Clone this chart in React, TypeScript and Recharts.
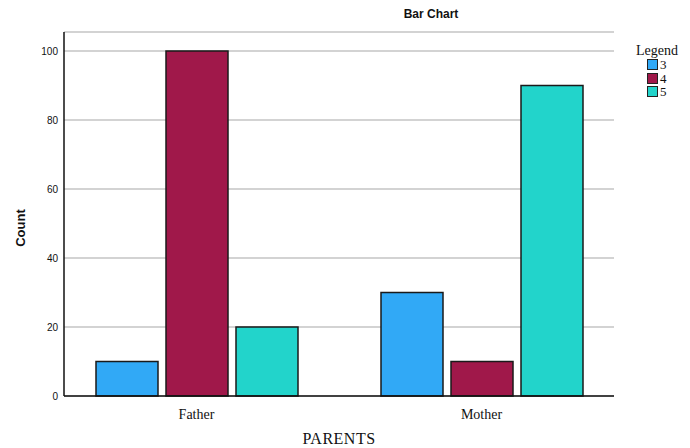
import React from 'react';
import { BarChart, Bar, XAxis, YAxis, CartesianGrid } from 'recharts';

const categories = ['Father', 'Mother'];
const series3 = [10, 30];
const series4 = [100, 10];
const series5 = [20, 90];
const yTicks = [0, 20, 40, 60, 80, 100];
const seriesNames = ['3', '4', '5'];
const seriesColors = ['#31a9f6', '#a0184a', '#22d4cb'];

const data = categories.map((c, i) => ({
  name: c,
  s3: series3[i],
  s4: series4[i],
  s5: series5[i],
}));

const LegendBox = () => (
  <div style={{ position: 'absolute', left: 636, top: 43, fontFamily: '"Liberation Serif", "DejaVu Serif", serif', fontSize: 14, color: '#111', lineHeight: '15px' }}>
    <div style={{ marginBottom: 0 }}>Legend</div>
    {seriesNames.map((n, i) => (
      <div key={n} style={{ display: 'flex', alignItems: 'center', marginLeft: 11, height: 13.5 }}>
        <span style={{ display: 'inline-block', width: 9, height: 9, background: seriesColors[i], border: '1px solid #222', marginRight: 2 }} />
        <span style={{ fontSize: 13 }}>{n}</span>
      </div>
    ))}
  </div>
);

export default function App() {
  return (
    <div style={{ position: 'absolute', left: 0, top: 0, width: 690, height: 448, background: '#fff', overflow: 'hidden' }}>
      <BarChart
        width={690}
        height={448}
        data={data}
        margin={{ top: 32, right: 76, bottom: 0, left: 34 }}
        barSize={62}
        barGap={8}
      >
        <CartesianGrid vertical={false} stroke="#c4c4c4" strokeWidth={1.5} />
        <XAxis
          dataKey="name"
          height={52}
          axisLine={{ stroke: '#111', strokeWidth: 1.5 }}
          tickLine={false}
          tickMargin={7}
          padding={{ left: -10, right: -10 }}
          tick={{ fill: '#111', fontSize: 14, fontFamily: '"Liberation Serif", "DejaVu Serif", serif' }}
        />
        <YAxis
          width={30}
          domain={[0, 105.5]}
          ticks={yTicks}
          axisLine={{ stroke: '#111', strokeWidth: 1.5 }}
          tickLine={false}
          tickMargin={0}
          tick={{ fill: '#111', fontSize: 10, fontFamily: '"Liberation Sans", Arial, sans-serif' }}
        />
        <Bar dataKey="s3" name="3" fill={seriesColors[0]} stroke="#1a1a1a" strokeWidth={1.5} isAnimationActive={false} />
        <Bar dataKey="s4" name="4" fill={seriesColors[1]} stroke="#1a1a1a" strokeWidth={1.5} isAnimationActive={false} />
        <Bar dataKey="s5" name="5" fill={seriesColors[2]} stroke="#1a1a1a" strokeWidth={1.5} isAnimationActive={false} />
      </BarChart>
      <LegendBox />
      <div style={{ position: 'absolute', left: 0, width: 862, top: 7, textAlign: 'center', fontFamily: '"Liberation Sans", Arial, sans-serif', fontWeight: 'bold', fontSize: 12, color: '#111' }}>
        Bar Chart
      </div>
      <div style={{ position: 'absolute', left: 20, top: 228, transform: 'translate(-50%, -50%) rotate(-90deg)', fontFamily: '"Liberation Sans", Arial, sans-serif', fontWeight: 'bold', fontSize: 13, color: '#111', whiteSpace: 'nowrap' }}>
        Count
      </div>
      <div style={{ position: 'absolute', left: 0, width: 678, top: 430, textAlign: 'center', fontFamily: '"Liberation Serif", "DejaVu Serif", serif', fontSize: 16, lineHeight: '18px', color: '#111', letterSpacing: 0.5 }}>
        PARENTS
      </div>
    </div>
  );
}
